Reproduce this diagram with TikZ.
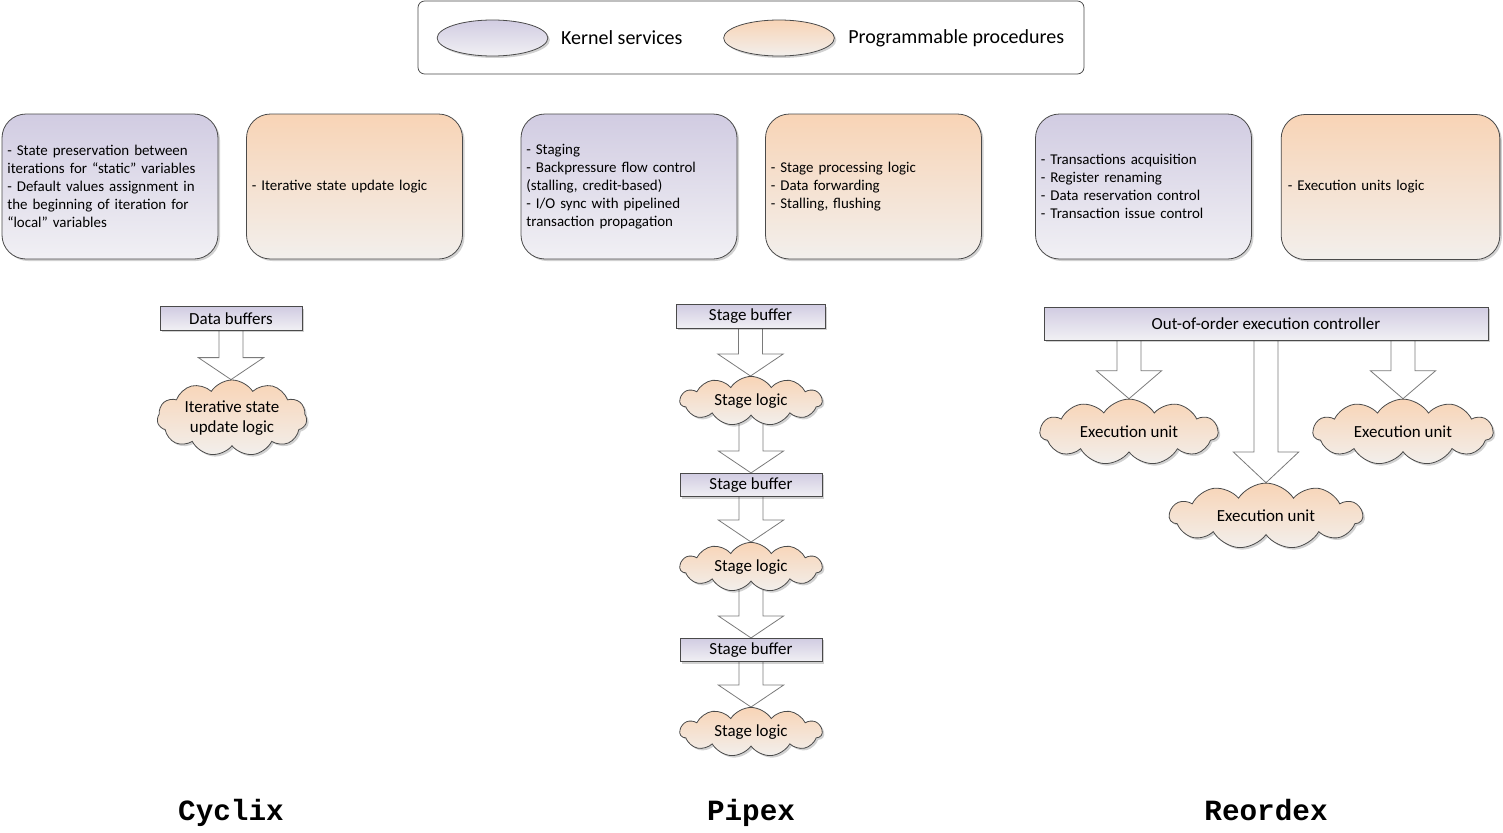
\documentclass[tikz,border=0pt]{standalone}
\usepackage{fontspec}
\setmainfont{Carlito}
\setmonofont{Liberation Mono}
\usepackage{tikz}
\usetikzlibrary{calc,positioning,shapes.symbols,shapes.geometric,shadows}
\pgfdeclarelayer{bg}
\pgfsetlayers{bg,main}
\definecolor{kerntop}{HTML}{D1CCE2}
\definecolor{kernbot}{HTML}{F1F0F4}
\definecolor{proctop}{HTML}{F8D4B6}
\definecolor{procbot}{HTML}{F2EFEC}
\definecolor{edge}{HTML}{4A4A4A}
\definecolor{arredge}{HTML}{7A7A7A}
\tikzset{
  kern/.style={draw=edge, line width=0.6pt, top color=kerntop, bottom color=kernbot},
  proc/.style={draw=edge, line width=0.6pt, top color=proctop, bottom color=procbot},
  shade/.style={drop shadow={shadow xshift=1.5pt, shadow yshift=-1.5pt, opacity=0.18, fill=black}},
  txt/.style={font=\fontsize{11.2}{13.6}\selectfont},
  lbl/.style={font=\fontsize{12.7}{15.2}\selectfont},
  sbox/.style={rounded corners=18pt, minimum width=162pt, minimum height=108.75pt, text width=154pt, align=left, inner sep=3.75pt, txt, shade},
  buf/.style={rectangle, inner sep=0pt, minimum height=17.5pt, lbl, shade},
  puff/.style={proc, cloud, cloud puffs=11, cloud puff arc=115, aspect=3, inner sep=0pt, align=center, lbl, shade},
  leg/.style={ellipse, minimum width=83pt, minimum height=27pt, shade},
  legtxt/.style={font=\fontsize{15}{18}\selectfont, inner sep=1pt},
  fat/.style={draw=arredge, fill=white, line width=0.6pt, line join=miter},
  title/.style={font=\fontsize{22}{26}\selectfont\ttfamily\bfseries, anchor=base},
}
% block arrow from #2 down to #3, head length #1
\newcommand{\fatarrow}[3][16.5pt]{%
  \begin{pgfonlayer}{bg}
  \draw[fat] let \p1=(#2), \p2=(#3) in
    (\x1-9pt,\y1+2pt) -- (\x1-9pt,\y2+#1) -- (\x1-24.5pt,\y2+#1) -- (\x1,\y2)
    -- (\x1+24.5pt,\y2+#1) -- (\x1+9pt,\y2+#1) -- (\x1+9pt,\y1+2pt);
  \end{pgfonlayer}
}
\begin{document}
\begin{tikzpicture}[x=0.75pt, y=-0.75pt]
  \useasboundingbox (0,0) rectangle (1503,832);

  % legend
  \node[draw=edge, line width=0.6pt, rounded corners=5pt, minimum width=499.5pt, minimum height=54.75pt] (legend) at (751,37.5) {};
  \node[leg, kern] (lk) at (492.5,38) {};
  \node[legtxt, right=8.5pt of lk] (lkt) {Kernel services};
  \node[leg, proc] (lp) at (779,38) {};
  \node[legtxt, right=9pt of lp] (lpt) {Programmable procedures};

  % Cyclix
  \node[sbox, kern] (cyk) at (110,186.5) {- State preservation between\\iterations for ``static'' variables\\- Default values assignment in\\the beginning of iteration for\\``local'' variables};
  \node[sbox, proc] (cyp) at (354.5,186.5) {- Iterative state update logic};
  \node[buf, kern, minimum width=106.5pt] (dbuf) at (231,318.5) {Data buffers};
  \node[puff, minimum width=108pt, minimum height=57pt] (iter) at (232,418) {Iterative state\\update logic};
  \fatarrow{dbuf.south}{iter.north}
  \node[title] (cyclix) at (231,820) {Cyclix};

  % Pipex
  \node[sbox, kern] (ppk) at (629,186.5) {- Staging\\- Backpressure flow control\\(stalling, credit-based)\\- I/O sync with pipelined\\transaction propagation};
  \node[sbox, proc] (ppp) at (873.5,186.5) {- Stage processing logic\\- Data forwarding\\- Stalling, flushing};
  \node[buf, kern, minimum width=111.75pt] (sb1) at (750.5,316.5) {Stage buffer};
  \node[puff, minimum width=106.5pt, minimum height=35pt] (sl1) at (751,401) {Stage logic};
  \node[buf, kern, minimum width=106.5pt] (sb2) at (751,485) {Stage buffer};
  \node[puff, minimum width=106.5pt, minimum height=35pt] (sl2) at (751,567) {Stage logic};
  \node[buf, kern, minimum width=106.5pt] (sb3) at (751,650) {Stage buffer};
  \node[puff, minimum width=106.5pt, minimum height=35pt] (sl3) at (751,732) {Stage logic};
  \fatarrow{sb1.south}{sl1.north}
  \fatarrow{sl1.south}{sb2.north}
  \fatarrow{sb2.south}{sl2.north}
  \fatarrow{sl2.south}{sb3.north}
  \fatarrow{sb3.south}{sl3.north}
  \node[title] (pipex) at (751,820) {Pipex};

  % Reordex
  \node[sbox, kern] (rok) at (1143.5,186.5) {- Transactions acquisition\\- Register renaming\\- Data reservation control\\- Transaction issue control};
  \node[sbox, proc, minimum width=164pt] (rop) at (1390.5,187) {- Execution units logic};
  \node[buf, kern, minimum width=333pt, minimum height=24.75pt] (ooo) at (1266,323.5) {Out-of-order execution controller};
  \node[puff, minimum width=133.5pt, minimum height=45pt] (eu1) at (1129,432) {Execution unit};
  \node[puff, minimum width=144.75pt, minimum height=48.75pt] (eu2) at (1266,516) {Execution unit};
  \node[puff, minimum width=135pt, minimum height=45pt] (eu3) at (1403,432) {Execution unit};
  \fatarrow[21pt]{eu1.north |- ooo.south}{eu1.north}
  \fatarrow[23pt]{eu2.north |- ooo.south}{eu2.north}
  \fatarrow[21pt]{eu3.north |- ooo.south}{eu3.north}
  \node[title] (reordex) at (1266,820) {Reordex};
\end{tikzpicture}
\end{document}
